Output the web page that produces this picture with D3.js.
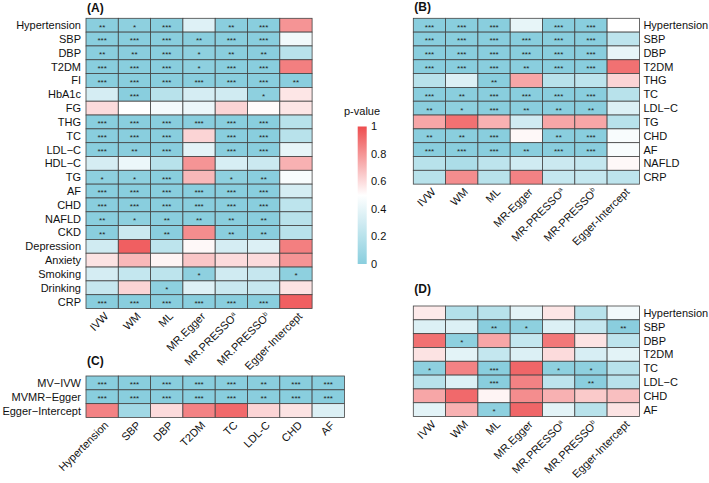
<!DOCTYPE html>
<html><head><meta charset="utf-8">
<script src="https://cdn.jsdelivr.net/npm/d3@7"></script>
<style>body{margin:0;background:#fff;} svg{display:block;font-family:"Liberation Sans",Arial,sans-serif;}</style>
</head><body>
<svg id="chart" width="709" height="483"></svg>
<script>
// ---------- DATA ----------
const methodsA = ["IVW","WM","ML","MR.Egger","MR.PRESSO|a","MR.PRESSO|b","Egger-Intercept"];
const methodsB = ["IVW","WM","ML","MR-Egger","MR-PRESSO|a","MR-PRESSO|b","Egger-Intercept"];
const methodsD = ["IVW","WM","ML","MR.Egger","MR.PRESSO|a","MR.PRESSO|b","Egger-Intercept"];
const traitsA = ["Hypertension","SBP","DBP","T2DM","FI","HbA1c","FG","THG","TC","LDL\u2212C","HDL\u2212C","TG","AF","CHD","NAFLD","CKD","Depression","Anxiety","Smoking","Drinking","CRP"];
const traitsB = ["Hypertension","SBP","DBP","T2DM","THG","TC","LDL\u2212C","TG","CHD","AF","NAFLD","CRP"];
const traitsC = ["Hypertension","SBP","DBP","T2DM","TC","LDL-C","CHD","AF"];
const methodsC = ["MV\u2212IVW","MVMR\u2212Egger","Egger\u2212Intercept"];
const traitsD = ["Hypertension","SBP","DBP","T2DM","TC","LDL\u2212C","CHD","AF"];

// p-values (rows = traits, columns = methods)
const pA = [
 [0.005,0.02,0.0005,0.36,0.005,0.0005,0.8],
 [0.0005,0.0005,0.0005,0.005,0.0005,0.0005,0.44],
 [0.005,0.005,0.0005,0.02,0.005,0.005,0.2],
 [0.0005,0.0005,0.0005,0.02,0.0005,0.0005,0.86],
 [0.0005,0.0005,0.0005,0.0005,0.0005,0.0005,0.005],
 [0.32,0.0005,0.2,0.32,0.3,0.02,0.57],
 [0.6,0.5,0.45,0.42,0.62,0.51,0.57],
 [0.0005,0.0005,0.0005,0.0005,0.0005,0.0005,0.2],
 [0.0005,0.0005,0.0005,0.62,0.0005,0.0005,0.2],
 [0.0005,0.005,0.0005,0.38,0.0005,0.0005,0.4],
 [0.32,0.42,0.2,0.8,0.33,0.28,0.72],
 [0.02,0.02,0.0005,0.7,0.02,0.005,0.47],
 [0.0005,0.0005,0.0005,0.0005,0.0005,0.0005,0.32],
 [0.0005,0.0005,0.0005,0.0005,0.0005,0.0005,0.22],
 [0.005,0.02,0.005,0.005,0.005,0.005,0.2],
 [0.005,0.28,0.005,0.82,0.005,0.005,0.2],
 [0.3,0.95,0.22,0.52,0.32,0.35,0.86],
 [0.58,0.7,0.53,0.66,0.6,0.6,0.8],
 [0.32,0.25,0.22,0.02,0.3,0.26,0.02],
 [0.26,0.62,0.02,0.36,0.27,0.26,0.58],
 [0.0005,0.0005,0.0005,0.0005,0.0005,0.0005,0.95]
];
const pB = [
 [0.0005,0.0005,0.0005,0.4,0.0005,0.0005,0.5],
 [0.0005,0.0005,0.0005,0.0005,0.0005,0.0005,0.22],
 [0.0005,0.0005,0.0005,0.0005,0.0005,0.0005,0.4],
 [0.0005,0.0005,0.0005,0.005,0.0005,0.0005,0.9],
 [0.2,0.35,0.005,0.75,0.2,0.22,0.62],
 [0.0005,0.005,0.0005,0.0005,0.0005,0.0005,0.2],
 [0.005,0.02,0.0005,0.005,0.005,0.005,0.35],
 [0.75,0.9,0.72,0.3,0.75,0.75,0.2],
 [0.005,0.005,0.0005,0.52,0.005,0.0005,0.47],
 [0.0005,0.0005,0.0005,0.005,0.0005,0.0005,0.47],
 [0.2,0.15,0.22,0.3,0.28,0.25,0.52],
 [0.2,0.82,0.2,0.85,0.25,0.25,0.22]
];
const pC = [
 [0.0005,0.0005,0.0005,0.0005,0.0005,0.005,0.0005,0.0005],
 [0.0005,0.0005,0.0005,0.0005,0.0005,0.005,0.0005,0.0005],
 [0.85,0.1,0.6,0.85,0.92,0.62,0.58,0.35]
];
const pD = [
 [0.56,0.18,0.2,0.38,0.57,0.2,0.44],
 [0.35,0.35,0.005,0.02,0.35,0.25,0.005],
 [0.9,0.02,0.75,0.25,0.88,0.58,0.22],
 [0.58,0.38,0.25,0.35,0.6,0.33,0.38],
 [0.02,0.85,0.0005,0.93,0.02,0.02,0.2],
 [0.2,0.35,0.0005,0.85,0.22,0.005,0.2],
 [0.75,0.92,0.53,0.82,0.72,0.65,0.68],
 [0.38,0.72,0.02,0.93,0.38,0.2,0.58]
];
const legendTicks = [0,0.2,0.4,0.6,0.8,1];

// ---------- DRAW ----------
const svg = d3.select("#chart");
const color = d3.scaleLinear().domain([0,0.5,1]).range(["#89CEDE","#ffffff","#EE4D4F"]);
const stars = p => p < 0.001 ? "***" : p < 0.01 ? "**" : p < 0.05 ? "*" : "";
const CW = 32.3, RH = 13.82;

function colLabel(sel, lab) {
  const parts = lab.split("|");
  sel.append("tspan").text(parts[0]);
  if (parts[1]) sel.append("tspan").attr("font-size", 6.5).attr("dy", -4).text(parts[1]);
}

function heatmap(o) {
  const g = svg.append("g");
  const x = d3.scaleBand().domain(d3.range(o.cols.length)).range([o.x0, o.x0 + o.cols.length * CW]);
  const y = d3.scaleBand().domain(d3.range(o.rows.length)).range([o.y0, o.y0 + o.rows.length * RH]);
  const cells = [];
  o.p.forEach((row, i) => row.forEach((v, j) => cells.push({i, j, v})));
  g.selectAll("rect.c").data(cells).join("rect")
    .attr("x", d => x(d.j)).attr("y", d => y(d.i))
    .attr("width", x.bandwidth()).attr("height", y.bandwidth())
    .attr("fill", d => color(d.v)).attr("stroke", "#444").attr("stroke-width", 0.8);
  g.selectAll("text.s").data(cells.filter(d => stars(d.v))).join("text")
    .attr("x", d => x(d.j) + x.bandwidth() / 2).attr("y", d => y(d.i) + y.bandwidth() / 2 + 4.4)
    .attr("text-anchor", "middle").attr("font-size", 8).attr("fill", "#222")
    .text(d => stars(d.v));
  // row labels
  const right = o.x0 + o.cols.length * CW;
  g.selectAll("text.r").data(o.rows).join("text")
    .attr("x", o.labelSide === "left" ? o.x0 - 5 : right + 4)
    .attr("y", (d, i) => y(i) + y.bandwidth() / 2)
    .attr("dy", "0.36em")
    .attr("text-anchor", o.labelSide === "left" ? "end" : "start")
    .attr("font-size", 11).attr("fill", "#111").text(d => d);
  // column labels
  const bottom = o.y0 + o.rows.length * RH;
  o.cols.forEach((c, j) => {
    const t = g.append("text")
      .attr("transform", `translate(${x(j) + x.bandwidth() / 2 + 7},${bottom + 8.5}) rotate(-45)`)
      .attr("text-anchor", "end").attr("font-size", 11).attr("fill", "#111");
    colLabel(t, c);
  });
  // title
  g.append("text").attr("x", o.x0 + 1).attr("y", o.ty)
    .attr("font-size", 12).attr("font-weight", "bold").attr("fill", "#111").text(o.title);
}

heatmap({title:"(A)", ty:11.8, x0:86, y0:18.3, rows:traitsA, cols:methodsA, p:pA, labelSide:"left"});
heatmap({title:"(B)", ty:11.3, x0:413.3, y0:18.3, rows:traitsB, cols:methodsB, p:pB, labelSide:"right"});
heatmap({title:"(C)", ty:365, x0:86, y0:376, rows:methodsC, cols:traitsC, p:pC, labelSide:"left"});
heatmap({title:"(D)", ty:293, x0:413.3, y0:306, rows:traitsD, cols:methodsD, p:pD, labelSide:"right"});

// legend
const lg = svg.append("g");
const ly = d3.scaleLinear().domain([0,1]).range([264,126.5]);
const defs = svg.append("defs");
const grad = defs.append("linearGradient").attr("id","lgrad").attr("x1",0).attr("y1",1).attr("x2",0).attr("y2",0);
d3.range(0,1.0001,0.1).forEach(t => grad.append("stop").attr("offset", t).attr("stop-color", color(t)));
lg.append("rect").attr("x",357.7).attr("y",ly(1)).attr("width",9).attr("height",ly(0)-ly(1)).attr("fill","url(#lgrad)");
lg.append("text").attr("x",344).attr("y",114.5).attr("font-size",11).attr("fill","#111").text("p-value");
lg.selectAll("text.t").data(legendTicks).join("text")
  .attr("x",371).attr("y", d => ly(d)).attr("dy","0.36em")
  .attr("font-size",11).attr("fill","#111").text(d => d3.format("~g")(d));
</script>
</body></html>
